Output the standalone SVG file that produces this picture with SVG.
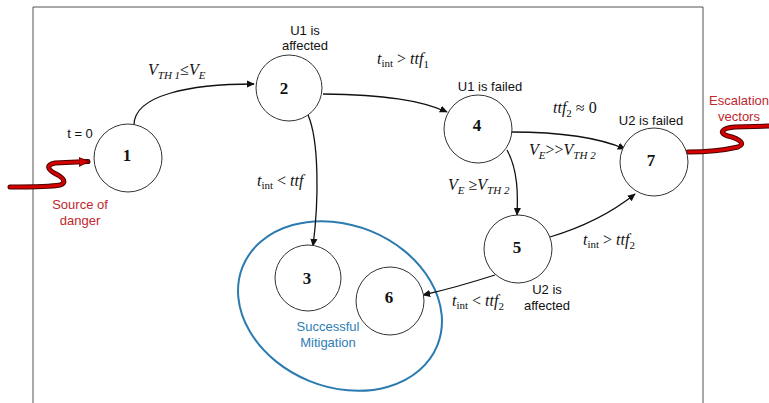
<svg xmlns="http://www.w3.org/2000/svg" width="769" height="403" viewBox="0 0 769 403">
<defs>
<style>
.node{fill:#fff;stroke:#333;stroke-width:1}
.num{font-family:"Liberation Serif",serif;font-weight:bold;font-size:17px;fill:#111;text-anchor:middle}
.lbl{font-family:"Liberation Sans",Arial,sans-serif;font-size:13px;fill:#111;text-anchor:middle}
.red{font-family:"Liberation Sans",Arial,sans-serif;font-size:13px;fill:#c0282d;text-anchor:middle}
.blue{font-family:"Liberation Sans",Arial,sans-serif;font-size:13px;fill:#2e7db5;text-anchor:middle}
.math{font-family:"Liberation Serif",serif;font-size:16px;font-style:italic;fill:#111}
.sub{font-size:11px}
.edge{fill:none;stroke:#111;stroke-width:1.3}
.rsh{fill:none;stroke:#4a0000;stroke-width:5;stroke-linecap:round}
.rln{fill:none;stroke:#d40000;stroke-width:3;stroke-linecap:round}
</style>
<marker id="ah" viewBox="0 0 10 10" refX="9" refY="5" markerWidth="8" markerHeight="8" markerUnits="userSpaceOnUse" orient="auto">
<path d="M0,0.5 L10,5 L0,9.5 z" fill="#111"/>
</marker>
<marker id="rah" viewBox="0 0 10 10" refX="9" refY="5" markerWidth="10" markerHeight="10" markerUnits="userSpaceOnUse" orient="auto">
<path d="M0,0.5 L10,5 L0,9.5 z" fill="#d40000" stroke="#4a0000" stroke-width="0.8"/>
</marker>
</defs>
<rect width="769" height="403" fill="#fff"/>
<path d="M33,410 V7 H703 V410" fill="none" stroke="#555" stroke-width="1"/>

<g id="mitigation">
<ellipse cx="340" cy="306" rx="105" ry="81" transform="rotate(22 340 306)" fill="none" stroke="#2b7bb0" stroke-width="2"/>
<text class="blue" x="328" y="331">Successful</text>
<text class="blue" x="328" y="347">Mitigation</text>
</g>

<g id="connectors">
<path class="edge" d="M134,125 C134,95 190,84 254,84" marker-end="url(#ah)"/>
<path class="edge" d="M323,94 C385,95 420,100 447,112" marker-end="url(#ah)"/>
<path class="edge" d="M308,115 C319,140 319,200 313,246" marker-end="url(#ah)"/>
<path class="edge" d="M507,150 C518,170 518,195 517,215" marker-end="url(#ah)"/>
<path class="edge" d="M511,132 C560,132 600,138 625,149" marker-end="url(#ah)"/>
<path class="edge" d="M550,237 C590,225 615,210 635,194" marker-end="url(#ah)"/>
<path class="edge" d="M495,275 C470,283 445,290 423,295" marker-end="url(#ah)"/>
</g>

<g id="source">
<path class="rsh" d="M10,187 C30,187 50,187 60,185 C67,183 64,178 56,174 C48,170 45,165 55,163 L88,161.5"/>
<path class="rln" d="M10,187 C30,187 50,187 60,185 C67,183 64,178 56,174 C48,170 45,165 55,163 L88,161.5" marker-end="url(#rah)"/>
<text class="red" x="80" y="209">Source of</text>
<text class="red" x="80" y="225">danger</text>
</g>

<g id="escalation">
<path class="rsh" d="M688,152 C705,152 725,150 738,147 C746,144 740,139 728,136 C718,133 722,128 735,127 L772,126"/>
<path class="rln" d="M688,152 C705,152 725,150 738,147 C746,144 740,139 728,136 C718,133 722,128 735,127 L772,126"/>
<text class="red" x="739" y="105">Escalation</text>
<text class="red" x="739" y="121">vectors</text>
</g>

<g id="n1"><circle class="node" cx="128" cy="158" r="34"/><text class="num" x="127" y="161">1</text></g>
<g id="n2"><circle class="node" cx="289" cy="88" r="33"/><text class="num" x="284" y="94">2</text></g>
<g id="n3"><circle class="node" cx="308" cy="278" r="33"/><text class="num" x="307" y="284">3</text></g>
<g id="n4"><circle class="node" cx="478" cy="129" r="34"/><text class="num" x="477" y="131">4</text></g>
<g id="n5"><circle class="node" cx="518" cy="249" r="34"/><text class="num" x="517" y="253">5</text></g>
<g id="n6"><circle class="node" cx="390" cy="301" r="34"/><text class="num" x="389" y="303">6</text></g>
<g id="n7"><circle class="node" cx="654" cy="162" r="34"/><text class="num" x="651" y="166">7</text></g>

<g id="state-labels">
<text class="lbl" x="80" y="138">t = 0</text>
<text class="lbl" x="305" y="35">U1 is</text>
<text class="lbl" x="305" y="50">affected</text>
<text class="lbl" x="490" y="91">U1 is failed</text>
<text class="lbl" x="651" y="125">U2 is failed</text>
<text class="lbl" x="547" y="294">U2 is</text>
<text class="lbl" x="547" y="310">affected</text>
</g>

<g id="edge-labels">
<text class="math" x="148" y="75">V<tspan class="sub" dy="4">TH 1</tspan><tspan dy="-4" font-style="normal">≤</tspan>V<tspan class="sub" dy="4">E</tspan></text>
<text class="math" x="377" y="64">t<tspan class="sub" dy="3" font-style="normal">int</tspan><tspan dy="-3" font-style="normal"> &gt; </tspan>ttf<tspan class="sub" dy="4" font-style="normal">1</tspan></text>
<text class="math" x="257" y="186">t<tspan class="sub" dy="3" font-style="normal">int</tspan><tspan dy="-3" font-style="normal"> &lt; </tspan>ttf</text>
<text class="math" x="448" y="190">V<tspan class="sub" dy="4">E</tspan><tspan dy="-4" font-style="normal"> ≥</tspan>V<tspan class="sub" dy="4">TH 2</tspan></text>
<text class="math" x="553" y="113">ttf<tspan class="sub" dy="4" font-style="normal">2</tspan><tspan dy="-4" font-style="normal"> ≈ 0</tspan></text>
<text class="math" x="529" y="155">V<tspan class="sub" dy="4">E</tspan><tspan dy="-4" font-style="normal">&gt;&gt;</tspan>V<tspan class="sub" dy="4">TH 2</tspan></text>
<text class="math" x="583" y="245">t<tspan class="sub" dy="3" font-style="normal">int</tspan><tspan dy="-3" font-style="normal"> &gt; </tspan>ttf<tspan class="sub" dy="4" font-style="normal">2</tspan></text>
<text class="math" x="452" y="306">t<tspan class="sub" dy="3" font-style="normal">int</tspan><tspan dy="-3" font-style="normal"> &lt; </tspan>ttf<tspan class="sub" dy="4" font-style="normal">2</tspan></text>
</g>
</svg>
